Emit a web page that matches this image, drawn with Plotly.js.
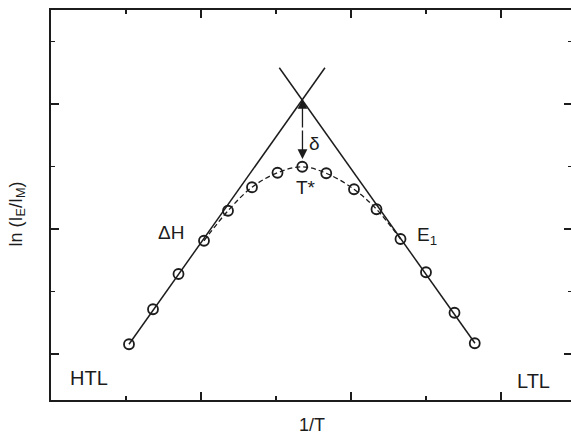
<!DOCTYPE html>
<html>
<head>
<meta charset="utf-8">
<script src="https://cdn.plot.ly/plotly-3.0.1.min.js"></script>
<style>
  html, body { margin: 0; padding: 0; overflow: hidden; background: #fff; }
  #chart { width: 576px; height: 434px; }
</style>
</head>
<body>
<div id="chart"></div>
<script>
// Measured ln(I_E/I_M) against inverse temperature (arbitrary units)
const invT     = [1.04, 1.36, 1.70, 2.04, 2.36, 2.68, 3.02, 3.35, 3.67, 4.04, 4.34, 4.66, 5.00, 5.38, 5.65];
const lnRatio  = [0.078, 0.358, 0.640, 0.906, 1.146, 1.334, 1.450, 1.498, 1.446, 1.318, 1.158, 0.920, 0.654, 0.330, 0.086];

// Indices of the points joined by the dashed crossover curve
const curveFrom = 3;
const curveTo = 11;

// High-temperature (ΔH) and low-temperature (E1) asymptotes
const htlLineX = [1.04, 3.653];
const htlLineY = [0.078, 2.290];
const ltlLineX = [3.044, 5.653];
const ltlLineY = [2.290, 0.086];

// Crossing point of the asymptotes and the top of the measured curve
const crossX = 3.353, crossY = 2.040;
const peakY = 1.560;
const midY = (crossY + peakY) / 2;

const ink = '#1c1c1c';
const fontFam = 'Liberation Sans, Arial, sans-serif';

const traces = [
  { x: htlLineX, y: htlLineY, mode: 'lines', line: { color: ink, width: 1.5 }, hoverinfo: 'skip' },
  { x: ltlLineX, y: ltlLineY, mode: 'lines', line: { color: ink, width: 1.5 }, hoverinfo: 'skip' },
  {
    x: invT.slice(curveFrom, curveTo + 1),
    y: lnRatio.slice(curveFrom, curveTo + 1),
    mode: 'lines',
    line: { color: ink, width: 1.3, dash: '5px,3px', shape: 'spline', smoothing: 1 },
    hoverinfo: 'skip'
  },
  {
    x: invT, y: lnRatio, mode: 'markers',
    marker: { symbol: 'circle-open', size: 10, color: ink, line: { width: 1.8, color: ink } }
  }
];

const axisCommon = {
  showgrid: false, zeroline: false, showticklabels: false,
  showline: true, linecolor: ink, linewidth: 1.7, mirror: 'allticks',
  ticks: 'inside', tickcolor: ink, tickwidth: 1.4, ticklen: 8,
  minor: { ticks: 'inside', ticklen: 4, tickwidth: 1.2, tickcolor: ink, dtick: 0 }
};

// One half of the δ double arrow: from the middle of the gap to (x, y)
function halfArrow(y) {
  return {
    x: crossX, y: y, ax: crossX, ay: midY, xref: 'x', yref: 'y', axref: 'x', ayref: 'y',
    text: '', showarrow: true, arrowhead: 2, arrowsize: 1.5, arrowwidth: 1.3,
    arrowcolor: ink, standoff: 0
  };
}

const layout = {
  width: 576, height: 434,
  margin: { l: 51, r: 4, t: 10, b: 34 },
  paper_bgcolor: '#fff', plot_bgcolor: '#fff',
  showlegend: false,
  font: { family: fontFam, color: ink, size: 18 },
  xaxis: Object.assign({}, axisCommon, {
    range: [0, 6.9467], tick0: 0, dtick: 2,
    minor: Object.assign({}, axisCommon.minor, { tick0: 0, dtick: 1 })
  }),
  yaxis: Object.assign({}, axisCommon, {
    range: [-0.368, 2.752], tick0: 0, dtick: 1,
    minor: Object.assign({}, axisCommon.minor, { tick0: 0, dtick: 0.5 })
  }),
  annotations: [
    // axis titles
    { xref: 'paper', yref: 'paper', x: 0.5, y: 0, yanchor: 'top', yshift: -13,
      text: '1/T', showarrow: false, font: { size: 18 } },
    { xref: 'paper', yref: 'y', x: 0, xshift: -34, y: 1.116, textangle: -90,
      xanchor: 'center', yanchor: 'middle',
      text: 'ln (I<sub>E</sub>/I<sub>M</sub>)', showarrow: false, font: { size: 18 } },
    // δ double arrow between asymptote crossing and curve maximum
    halfArrow(crossY),
    halfArrow(peakY),
    { x: 3.513, y: 1.688, text: 'δ', showarrow: false, font: { size: 19 } },
    { x: 3.40, y: 1.336, text: 'T*', showarrow: false, font: { size: 19 } },
    { x: 1.60, y: 0.976, text: 'ΔH', showarrow: false, font: { size: 19 } },
    { x: 5.01, y: 0.944, text: 'E<sub>1</sub>', showarrow: false, font: { size: 19 } },
    { x: 0.50, y: -0.192, text: 'HTL', showarrow: false, font: { size: 20 } },
    { x: 6.43, y: -0.212, text: 'LTL', showarrow: false, font: { size: 20 } }
  ]
};

Plotly.newPlot('chart', traces, layout, { staticPlot: true, displayModeBar: false });
</script>
</body>
</html>
